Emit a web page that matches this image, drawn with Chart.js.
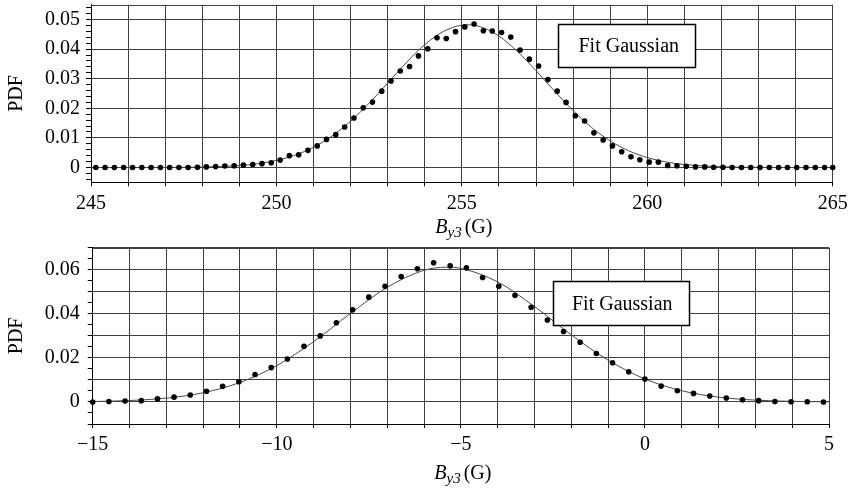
<!DOCTYPE html>
<html><head><meta charset="utf-8">
<script src="https://cdn.jsdelivr.net/npm/chart.js@4.4.0/dist/chart.umd.min.js"></script>
<style>
html,body{margin:0;padding:0;background:#fff;}
#wrap{position:relative;width:851px;height:489px;overflow:hidden;background:#fff;}
canvas{position:absolute;left:0;}
#c1{top:0;} #c2{top:245px;}
</style></head><body>
<div id="wrap"><canvas id="c1" width="851" height="245"></canvas><canvas id="c2" width="851" height="244"></canvas></div>
<script>
// ---------- Top panel data ----------
const topBy3 = [245.13,245.38,245.63,245.88,246.12,246.37,246.62,246.87,247.12,247.37,247.62,247.87,248.11,248.36,248.61,248.86,249.11,249.36,249.61,249.86,
250.10,250.35,250.60,250.85,251.10,251.35,251.60,251.84,252.09,252.34,252.59,252.84,253.09,253.34,253.59,253.83,254.08,254.33,254.58,254.83,
255.08,255.33,255.58,255.82,256.07,256.32,256.57,256.82,257.07,257.32,257.57,257.81,258.06,258.31,258.56,258.81,259.06,259.31,259.56,259.80,
260.05,260.30,260.55,260.80,261.05,261.30,261.55,261.79,262.04,262.29,262.54,262.79,263.04,263.29,263.54,263.78,264.03,264.28,264.53,264.78,265.00];
const topPDF = [0,0,0,0,0,0,0,0,0,0,0,
0.0001,0.0002,0.0003,0.0005,0.0006,0.0008,0.0010,0.0013,0.0016,0.0025,0.0040,0.0043,0.0058,0.0073,0.0095,0.0111,0.0137,0.0167,0.0202,
0.0221,0.0258,0.0292,0.0326,0.0341,0.0377,0.0401,0.0438,0.0436,0.0459,0.0475,0.0485,0.0462,0.0461,0.0456,0.0441,0.0397,0.0366,0.0343,0.0297,
0.0258,0.0220,0.0175,0.0157,0.0117,0.0093,0.0073,0.0053,0.0036,0.0026,0.0018,0.0018,0.0007,0.0006,0.0004,0.0002,0.0002,0.0001,0.0001,
0,0,0,0,0,0,0,0,0,0,0,0];
const topFitBy3 = [245,246,247,248,249,249.5,250,250.5,251,251.5,252,252.5,253,253.5,254,254.5,255,255.2,255.5,256,256.5,257,257.5,258,258.5,259,259.5,260,260.5,261,262,263,264,265];
const topFitPDF = [0,0,0.00003,0.00015,0.00066,0.00129,0.00238,0.00415,0.00684,0.01065,0.01565,0.02174,0.0285,0.0354,0.0415,0.04594,0.04808,0.0482,0.04754,0.04441,0.0392,0.0327,0.0258,0.0192,0.0135,0.00898,0.00564,0.00335,0.00188,0.0010,0.00024,0.00004,0,0];
const topXTickLabels = [245,250,255,260,265];
const topYTickLabels = [0,0.01,0.02,0.03,0.04,0.05];

// ---------- Bottom panel data ----------
const botBy3 = [-15.00,-14.56,-14.12,-13.68,-13.24,-12.79,-12.35,-11.91,-11.47,-11.03,-10.59,-10.15,-9.71,-9.26,-8.82,-8.38,-7.94,-7.50,-7.06,-6.62,
-6.18,-5.74,-5.29,-4.85,-4.41,-3.97,-3.53,-3.09,-2.65,-2.21,-1.76,-1.32,-0.88,-0.44,0.00,0.44,0.88,1.32,1.76,2.21,2.65,3.09,3.53,3.97,4.41,4.85,5.29];
const botPDF = [0.0000,0.0002,0.0004,0.0006,0.0014,0.0022,0.0032,0.0049,0.0071,0.0092,0.0125,0.0156,0.0195,0.0253,0.0300,0.0360,0.0419,0.0476,0.0525,0.0570,
0.0605,0.0632,0.0618,0.0609,0.0565,0.0525,0.0484,0.0430,0.0372,0.0320,0.0271,0.0220,0.0178,0.0137,0.0104,0.0072,0.0051,0.0039,0.0027,0.0018,
0.0010,0.0006,0.0002,0.0001,0.0001,0.0000,0.0000];
const botFitBy3 = [-15,-14,-13,-12,-11,-10,-9,-8,-7,-6,-5.4,-5,-4,-3,-2,-1,0,1,2,3,4,5];
const botFitPDF = [0.00021,0.00065,0.00175,0.00418,0.00884,0.01654,0.0274,0.04015,0.05207,0.05976,0.0612,0.06067,0.05452,0.04334,0.03049,0.01899,0.01046,0.0051,0.0022,0.00084,0.00028,0.00009];
const botXTickLabels = [-15,-10,-5,0,5];
const botYTickLabels = [0,0.02,0.04,0.06];

const yAxisTitle = 'PDF';
const legendLabel = 'Fit Gaussian';
const xTitleMain = 'B', xTitleSub = 'y3', xTitleUnit = '(G)';

// ---------- helpers ----------
const SERIF = '"Liberation Serif", "Times New Roman", serif';
const near = (arr, v) => arr.some(a => Math.abs(a - v) < 1e-9);
const fmt = v => (v < 0 ? '\u2212' + String(Math.abs(v)) : String(v));
function range(a, b, step) { const out = []; const n = Math.round((b - a) / step); for (let i = 0; i <= n; i++) out.push(Math.round((a + i * step) * 1e6) / 1e6); return out; }

const decor = {
  id: 'decor',
  beforeDatasetsDraw(chart) {
    const {ctx, chartArea: a} = chart;
    ctx.save();
    ctx.strokeStyle = '#404040'; ctx.lineWidth = 1;
    ctx.beginPath();
    ctx.moveTo(Math.round(a.left), Math.round(a.top) + 0.5);
    ctx.lineTo(Math.round(a.right), Math.round(a.top) + 0.5);
    ctx.stroke();
    ctx.restore();
  },
  afterDraw(chart, args, o) {
    const {ctx, chartArea: a} = chart;
    ctx.save();
    // legend box
    const bx = Math.round(a.left + o.box[0]) + 0.5, by = Math.round(a.top + o.box[1]) + 0.5;
    ctx.fillStyle = '#fff';
    ctx.fillRect(bx, by, o.box[2], o.box[3]);
    ctx.strokeStyle = '#000'; ctx.lineWidth = 1.5;
    ctx.strokeRect(bx, by, o.box[2], o.box[3]);
    ctx.fillStyle = '#000';
    ctx.font = '20px ' + SERIF;
    ctx.textBaseline = 'middle'; ctx.textAlign = 'left';
    ctx.fillText(legendLabel, bx + o.textDx, by + o.box[3] / 2 + 1);
    // x-axis title  B_y3 (G)
    const f1 = 'italic 20px ' + SERIF, f2 = 'italic 15px ' + SERIF, f3 = '20px ' + SERIF;
    ctx.textBaseline = 'alphabetic';
    ctx.font = f1; const w1 = ctx.measureText(xTitleMain).width;
    ctx.font = f2; const w2 = ctx.measureText(xTitleSub).width;
    ctx.font = f3; const w3 = ctx.measureText(xTitleUnit).width;
    const gap = 3;
    let x = (a.left + a.right) / 2 + 2 - (w1 + w2 + gap + w3) / 2;
    const y = a.bottom + o.titleDy;
    ctx.font = f1; ctx.fillText(xTitleMain, x, y); x += w1;
    ctx.font = f2; ctx.fillText(xTitleSub, x, y + 4); x += w2 + gap;
    ctx.font = f3; ctx.fillText(xTitleUnit, x, y);
    ctx.restore();
  }
};

function build(id, d) {
  return new Chart(document.getElementById(id), {
    type: 'scatter',
    data: { datasets: [
      { data: d.x.map((v, i) => ({x: v, y: d.y[i]})), showLine: false, pointRadius: 2.8, pointHoverRadius: 2.8,
        pointBackgroundColor: '#000', pointBorderWidth: 0, clip: false, order: 0 },
      { data: d.fx.map((v, i) => ({x: v, y: d.fy[i]})), showLine: true, pointRadius: 0, borderColor: '#4a4a4a',
        borderWidth: 1, cubicInterpolationMode: 'monotone', order: 1 }
    ]},
    options: {
      responsive: false, animation: false, devicePixelRatio: 1, events: [],
      layout: { padding: { left: 0, right: d.padR, top: d.padT, bottom: 0 } },
      plugins: { legend: { display: false }, tooltip: { enabled: false }, decor: d.decor },
      scales: {
        x: {
          type: 'linear', min: d.xmin, max: d.xmax,
          afterBuildTicks: s => { s.ticks = d.xTicks.map(v => ({value: v})); },
          afterFit: s => { s.height = d.xh; s.paddingLeft = 0; s.paddingRight = 0; },
          ticks: { autoSkip: false, maxRotation: 0, padding: 5, color: '#000', font: { family: SERIF, size: 20 },
            callback: v => near(d.xLabels, v) ? fmt(v) : '' },
          grid: { color: '#404040', lineWidth: 1, tickLength: 4, tickColor: '#000' },
          border: { color: '#000', width: 1 }
        },
        y: {
          type: 'linear', min: d.ymin, max: d.ymax,
          afterBuildTicks: s => { s.ticks = d.yTicks.map(v => ({value: v})); },
          afterFit: s => { s.width = d.yw; s.paddingTop = 0; s.paddingBottom = 0; },
          ticks: { autoSkip: false, padding: d.yPad, color: '#000', font: { family: SERIF, size: 20 },
            callback: v => near(d.yLabels, v) ? fmt(v) : '' },
          grid: { color: c => (c.tick && near(d.yGrid, c.tick.value)) ? '#404040' : 'rgba(0,0,0,0)',
            lineWidth: 1, tickLength: 5, tickColor: '#000' },
          border: { color: '#000', width: 1 },
          title: { display: true, text: yAxisTitle, color: '#000', font: { family: SERIF, size: 20 }, padding: { top: 5, bottom: 0 } }
        }
      }
    },
    plugins: [decor]
  });
}

build('c1', {
  x: topBy3, y: topPDF, fx: topFitBy3, fy: topFitPDF,
  xmin: 245, xmax: 265, ymin: -0.005, ymax: 0.055,
  xTicks: range(245, 265, 1), xLabels: topXTickLabels,
  yTicks: range(-0.004, 0.054, 0.002), yLabels: topYTickLabels, yGrid: topYTickLabels,
  padR: 18.3, padT: 4.7, xh: 62.7, yw: 91, yPad: 6,
  decor: { box: [467, 19.3, 137, 43], textDx: 20, titleDy: 51 }
});
build('c2', {
  x: botBy3, y: botPDF, fx: botFitBy3, fy: botFitPDF,
  xmin: -15, xmax: 5, ymin: -0.01, ymax: 0.07,
  xTicks: range(-15, 5, 1), xLabels: botXTickLabels,
  yTicks: range(-0.01, 0.07, 0.005), yLabels: botYTickLabels, yGrid: range(-0.01, 0.07, 0.01),
  padR: 22, padT: 2.3, xh: 65, yw: 92.7, yPad: 8,
  decor: { box: [460.3, 32.7, 136, 44], textDx: 18.5, titleDy: 55 }
});
</script>
</body></html>
